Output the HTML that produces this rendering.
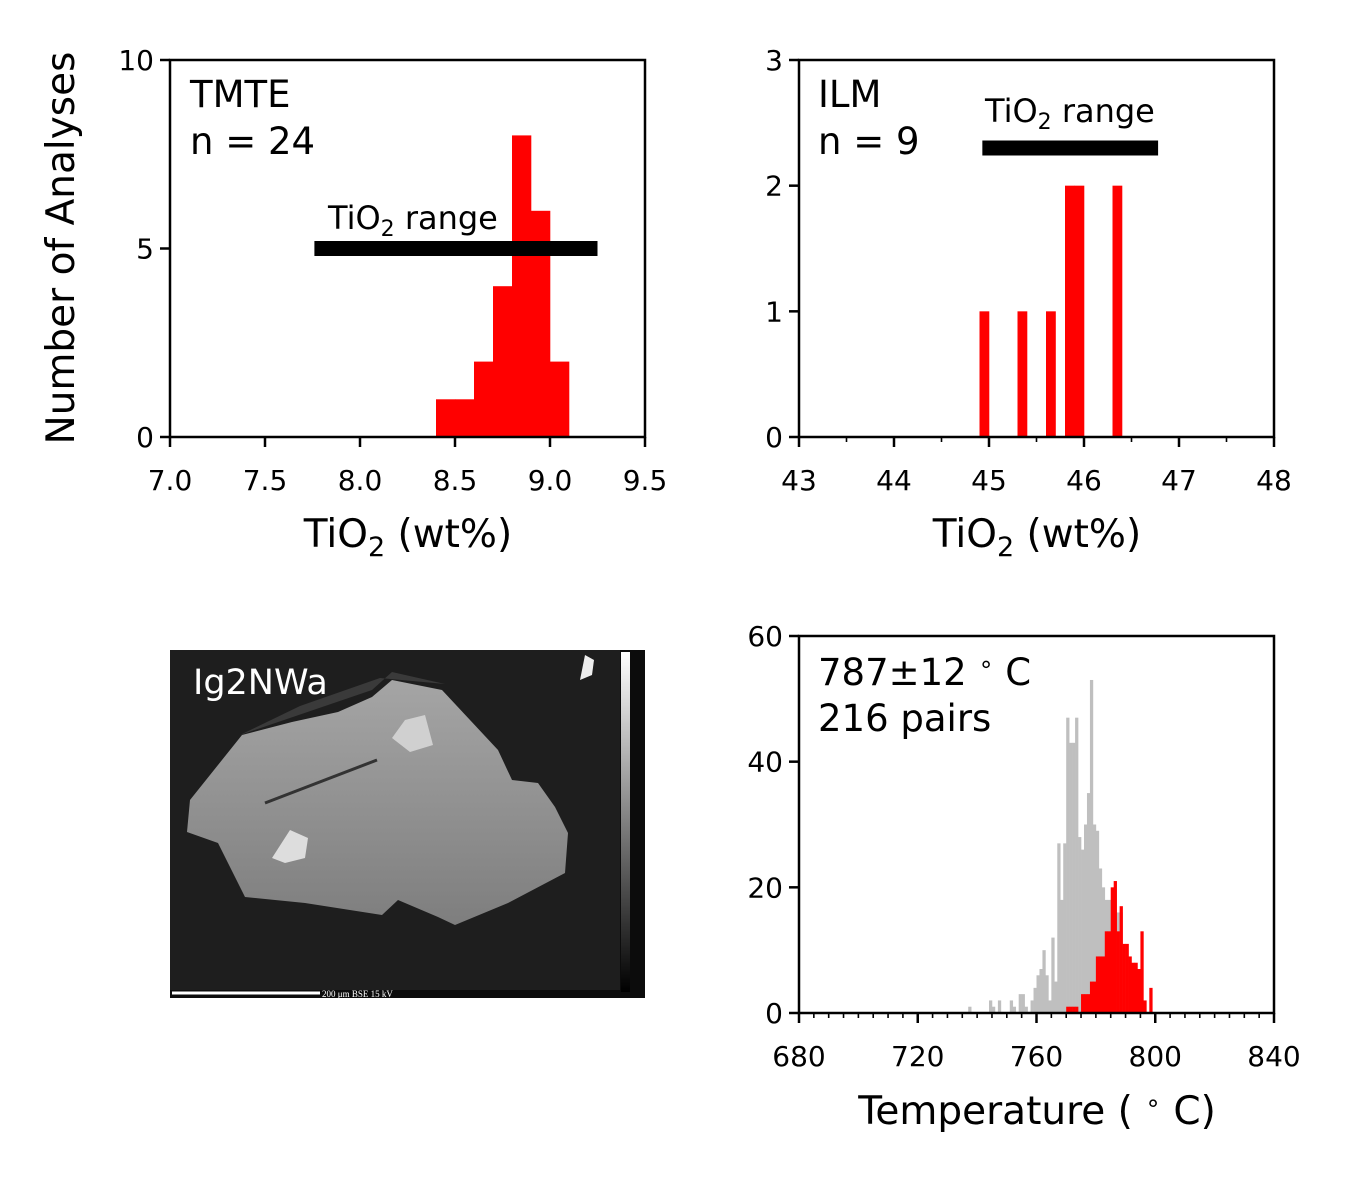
<!DOCTYPE html>
<html><head><meta charset="utf-8"><style>
html,body{margin:0;padding:0;background:#fff;}
svg{display:block;font-family:"DejaVu Sans","Liberation Sans",sans-serif;}
</style></head><body>
<svg id="fig" width="1350" height="1200" viewBox="0 0 1350 1200">
<defs>
<linearGradient id="cryst" x1="0" y1="0" x2="0" y2="1"><stop offset="0" stop-color="#a5a5a5"/><stop offset="1" stop-color="#7e7e7e"/></linearGradient>
<linearGradient id="cbar" x1="0" y1="1" x2="0" y2="0"><stop offset="0" stop-color="#000"/><stop offset="1" stop-color="#fff"/></linearGradient>
</defs>
<g id="bse">
<rect x="170" y="650" width="475" height="348" fill="#0c0c0c"/>
<rect x="170" y="650" width="450" height="340" fill="#1e1e1e"/>
<polygon points="240,735 372,690 392,672 445,684 380,678 300,706" fill="#3a3a3a"/>
<polygon points="190,800 242,735 292,722 338,712 372,697 392,680 442,690 498,750 512,780 538,783 555,807 568,833 565,873 508,903 455,925 438,917 398,900 382,915 305,903 245,897 218,843 187,832" fill="url(#cryst)"/>
<line x1="265" y1="803" x2="377" y2="760" stroke="#333" stroke-width="3"/>
<polygon points="272,858 290,830 308,838 305,858 285,863" fill="#ddd"/>
<polygon points="392,738 405,720 425,715 433,745 410,752" fill="#d0d0d0"/>
<polygon points="580,680 585,655 594,660 592,675" fill="#eee"/>
<rect x="621" y="652" width="9" height="340" fill="url(#cbar)"/>
<line x1="172" y1="993" x2="320" y2="993" stroke="#fff" stroke-width="3"/>
<text x="322" y="997" fill="#fff" font-size="9" font-family="Liberation Serif,serif">200 μm BSE 15 kV</text>
<text x="193" y="694" fill="#fff" font-size="35">Ig2NWa</text>
</g>
</svg>
<script>
// TMTE histogram
const tmteBinStart = [8.4, 8.5, 8.6, 8.7, 8.8, 8.9, 9.0];
const tmteCounts = [1, 1, 2, 4, 8, 6, 2];
const tmteRange = [7.76, 9.25];
const tmteRangeY = 5;
const tmteXTicks = [7.0, 7.5, 8.0, 8.5, 9.0, 9.5];
const tmteYTicks = [0, 5, 10];
// ILM histogram
const ilmBinStart = [44.9, 45.3, 45.6, 45.8, 45.9, 46.3];
const ilmCounts = [1, 1, 1, 2, 2, 2];
const ilmRange = [44.93, 46.78];
const ilmRangeY = 2.3;
const ilmXTicks = [43, 44, 45, 46, 47, 48];
const ilmYTicks = [0, 1, 2, 3];
// Temperature histograms
const greyTemps = [737,744,745,747,751,752,754,755,756,758,759,760,761,762,763,764,765,766,767,768,769,770,771,772,773,774,775,776,777,778,779,780,781,782,783,784,785,786,787,788];
const greyCounts = [1,2,1,2,2,1,3,3,1,2,4,6,7,10,6,2,12,5,27,18,27,47,43,43,47,28,26,30,35,53,30,29,23,20,18,18,17,16,16,16];
const redTemps = [770,771,772,773,775,776,777,778,779,780,781,782,783,784,785,786,787,788,789,790,791,792,793,794,795,796,798];
const redCounts = [1,1,1,1,3,3,3,5,5,9,9,9,13,13,20,21,13,17,11,11,9,8,8,7,13,2,4];
const tempXTicks = [680, 720, 760, 800, 840];
const tempYTicks = [0, 20, 40, 60];

const NS = 'http://www.w3.org/2000/svg';
const svg = document.getElementById('fig');
function mk(tag, attrs, parent) {
  const e = document.createElementNS(NS, tag);
  for (const k in attrs) e.setAttribute(k, attrs[k]);
  (parent || svg).appendChild(e);
  return e;
}
function axes(box, xd, yd) {
  const sx = v => box.x + (v - xd[0]) / (xd[1] - xd[0]) * box.w;
  const sy = v => box.y + box.h - (v - yd[0]) / (yd[1] - yd[0]) * box.h;
  return {sx, sy};
}
function drawFrame(g, box, A, xt, yt, fmtX, minorStep, xd) {
  const fr = mk('rect', {x: box.x, y: box.y, width: box.w, height: box.h, fill: 'none', stroke: '#000', 'stroke-width': 2.5}, g);
  
  
  xt.forEach(v => {
    const x = A.sx(v);
    const t = mk('line', {x1: x, x2: x, y1: box.y + box.h, y2: box.y + box.h + 10, stroke: '#000', 'stroke-width': 2.5}, g);
    
    
    const l = mk('text', {x: x, y: box.y + box.h + 53, 'text-anchor': 'middle', 'font-size': 28}, g);
    
    
    l.textContent = fmtX(v);
  });
  if (minorStep) {
    for (let v = xd[0]; v <= xd[1] + 1e-9; v += minorStep) {
      const x = A.sx(v);
      const t = mk('line', {x1: x, x2: x, y1: box.y + box.h, y2: box.y + box.h + 5, stroke: '#000', 'stroke-width': 1.6}, g);
      
      
    }
  }
  yt.forEach(v => {
    const y = A.sy(v);
    const t = mk('line', {x1: box.x - 10, x2: box.x, y1: y, y2: y, stroke: '#000', 'stroke-width': 2.5}, g);
    
    
    const l = mk('text', {x: box.x - 16, y: y + 10, 'text-anchor': 'end', 'font-size': 28}, g);
    
    
    l.textContent = v;
  });
}
function bars(g, A, starts, counts, w, color, name) {
  starts.forEach((s, i) => {
    const x0 = A.sx(s), x1 = A.sx(s + w), y = A.sy(counts[i]), y0 = A.sy(0);
    const r = mk('rect', {x: x0, y: y, width: x1 - x0 + 0.3, height: y0 - y, fill: color}, g);
    
    
  });
}
function txt(g, x, y, size, html, name, anchor) {
  const t = mk('text', {x: x, y: y, 'font-size': size, 'text-anchor': anchor || 'start'}, g);
  t.innerHTML = html;
  
  
  return t;
}
const tio2 = 'TiO<tspan font-size="27" dy="9">2</tspan><tspan dy="-9"> (wt%)</tspan>';

// Panel 1
{
  const g = mk('g', {});
  
  
  const box = {x: 170, y: 60, w: 475, h: 377};
  const A = axes(box, [7, 9.5], [0, 10]);
  bars(g, A, tmteBinStart, tmteCounts, 0.1, '#ff0000', 'tmte-bar');
  const rb = mk('line', {x1: A.sx(tmteRange[0]), x2: A.sx(tmteRange[1]), y1: A.sy(tmteRangeY), y2: A.sy(tmteRangeY), stroke: '#000', 'stroke-width': 15}, g);
  
  
  txt(g, 328, 229, 32, 'TiO<tspan font-size="22" dy="7">2</tspan><tspan dy="-7"> range</tspan>', 'tio2-range-label');
  drawFrame(g, box, A, tmteXTicks, tmteYTicks, v => v.toFixed(1));
  txt(g, 190, 107, 37, 'TMTE', 'mineral-label');
  txt(g, 190, 154, 37, 'n = 24', 'n-label');
  txt(g, 408, 547, 39, tio2, 'x-axis-title', 'middle');
  const yl = txt(g, 0, 0, 39, 'Number of Analyses', 'y-axis-title', 'middle');
  yl.setAttribute('transform', 'translate(74,248) rotate(-90)');
}
// Panel 2
{
  const g = mk('g', {});
  
  
  const box = {x: 799, y: 60, w: 475, h: 377};
  const A = axes(box, [43, 48], [0, 3]);
  bars(g, A, ilmBinStart, ilmCounts, 0.1, '#ff0000', 'ilm-bar');
  const rb = mk('line', {x1: A.sx(ilmRange[0]), x2: A.sx(ilmRange[1]), y1: A.sy(ilmRangeY), y2: A.sy(ilmRangeY), stroke: '#000', 'stroke-width': 15}, g);
  
  
  txt(g, 985, 122, 32, 'TiO<tspan font-size="22" dy="7">2</tspan><tspan dy="-7"> range</tspan>', 'tio2-range-label');
  drawFrame(g, box, A, ilmXTicks, ilmYTicks, v => v, 0.5, [43, 48]);
  txt(g, 818, 107, 37, 'ILM', 'mineral-label');
  txt(g, 818, 154, 37, 'n = 9', 'n-label');
  txt(g, 1037, 547, 39, tio2, 'x-axis-title', 'middle');
}
// Panel 4
{
  const g = mk('g', {});
  
  
  const box = {x: 799, y: 636, w: 475, h: 377};
  const A = axes(box, [680, 840], [0, 60]);
  bars(g, A, greyTemps, greyCounts, 1, '#bfbfbf', 'grey-bar');
  bars(g, A, redTemps, redCounts, 1, '#ff0000', 'red-bar');
  drawFrame(g, box, A, tempXTicks, tempYTicks, v => v, 5, [680, 840]);
  txt(g, 818, 685, 37, '787±12 <tspan font-size="24" dy="-13">∘</tspan><tspan dy="13"> C</tspan>', 'temperature-label');
  txt(g, 818, 731, 37, '216 pairs', 'pairs-label');
  txt(g, 1037, 1124, 39, 'Temperature ( <tspan font-size="25" dy="-13">∘</tspan><tspan dy="13"> C)</tspan>', 'x-axis-title', 'middle');
}
</script>
</body></html>
